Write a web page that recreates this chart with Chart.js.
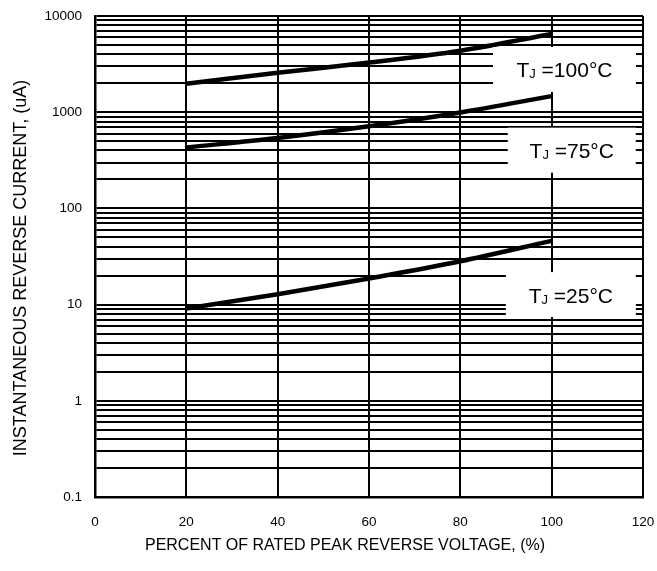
<!DOCTYPE html>
<html>
<head>
<meta charset="utf-8">
<script src="https://cdn.jsdelivr.net/npm/chart.js@4"></script>
<style>
  body { margin: 0; background: #fff; }
</style>
</head>
<body>
<canvas id="grafico" width="657" height="571"></canvas>
<script>
// datos
const voltaje = [20, 40, 60, 80, 100]
const corriente100 = [1980, 2570, 3280, 4360, 6500]
const corriente75 = [430, 540, 714, 995, 1470]
const corriente25 = [9.1, 12.8, 18.7, 28.2, 46]

const decadas = [0.1, 1, 10, 100, 1000, 10000]
const xTicks = [0, 20, 40, 60, 80, 100, 120]

const tituloX = "PERCENT OF RATED PEAK REVERSE VOLTAGE, (%)"
const tituloY = "INSTANTANEOUS REVERSE CURRENT, (uA)"

// etiquetas de temperatura (posicion en unidades de datos)
const etiquetas = ["=100°C", "=75°C", "=25°C"]
const etiquetaX = [102.8, 104.4, 104.2]
const etiquetaY = [2780, 403, 12.7]
const anchoCaja = [143, 128, 130]

const fuente = "Liberation Sans, Arial, sans-serif"

const pluginEtiquetas = {
  id: "etiquetas",
  afterDatasetsDraw(chart) {
    const ctx = chart.ctx
    const xs = chart.scales.x
    const ys = chart.scales.y
    ctx.save()
    etiquetas.forEach((txt, i) => {
      const cx = xs.getPixelForValue(etiquetaX[i])
      const cy = ys.getPixelForValue(etiquetaY[i])
      const w = anchoCaja[i]
      const h = 45
      ctx.fillStyle = "#fff"
      ctx.fillRect(cx - w / 2, cy - h / 2, w, h)

      ctx.fillStyle = "#000"
      ctx.textBaseline = "alphabetic"
      ctx.font = "21px " + fuente
      const wT = ctx.measureText("T").width
      const wResto = ctx.measureText(" " + txt).width
      ctx.font = "13px " + fuente
      const wJ = ctx.measureText("J").width
      let x = cx - (wT + wJ + wResto) / 2
      const base = cy + 8
      ctx.font = "21px " + fuente
      ctx.fillText("T", x, base)
      x += wT
      ctx.font = "13px " + fuente
      ctx.fillText("J", x, base + 1)
      x += wJ
      ctx.font = "21px " + fuente
      ctx.fillText(" " + txt, x, base)
    })

    // titulos de los ejes
    ctx.textAlign = "center"
    ctx.textBaseline = "middle"
    ctx.font = "16px " + fuente
    ctx.fillText(tituloX, 345, 546)
    ctx.translate(21, 268)
    ctx.rotate(-Math.PI / 2)
    ctx.font = "18px " + fuente
    ctx.fillText(tituloY, 0, 0)
    ctx.restore()
  }
}

const serie = (data) => ({
  data: voltaje.map((v, i) => ({ x: v, y: data[i] })),
  borderColor: "#000",
  borderWidth: 4.5,
  pointRadius: 0,
  fill: false,
  cubicInterpolationMode: "monotone"
})

const config = {
  type: "line",
  data: {
    datasets: [serie(corriente100), serie(corriente75), serie(corriente25)]
  },
  options: {
    responsive: false,
    animation: false,
    layout: { padding: { left: 0, right: 14, top: 16, bottom: 0 } },
    plugins: { legend: { display: false }, tooltip: { enabled: false } },
    scales: {
      x: {
        type: "linear",
        min: 0,
        max: 120,
        afterBuildTicks: (scale) => {
          scale.ticks = xTicks.map((v) => ({ value: v }))
        },
        afterFit: (scale) => {
          scale.height = 74
          scale.paddingLeft = 0
          scale.paddingRight = 0
        },
        grid: { color: "#000", lineWidth: 2, drawTicks: false },
        border: { color: "#000", width: 2.5 },
        ticks: {
          color: "#000",
          padding: 17,
          maxRotation: 0,
          autoSkip: false,
          font: { family: fuente, size: 13.5 }
        }
      },
      y: {
        type: "logarithmic",
        min: 0.1,
        max: 10000,
        afterBuildTicks: (scale) => {
          const t = []
          decadas.forEach((d, i) => {
            if (i === decadas.length - 1) {
              t.push({ value: d, major: true })
              return
            }
            for (let k = 1; k <= 9; k++) t.push({ value: d * k, major: k === 1 })
          })
          scale.ticks = t
        },
        afterFit: (scale) => {
          scale.width = 95
          scale.paddingTop = 0
          scale.paddingBottom = 0
        },
        grid: { color: "#000", lineWidth: 2, drawTicks: false },
        border: { color: "#000", width: 2.5 },
        ticks: {
          color: "#000",
          padding: 13,
          autoSkip: false,
          font: { family: fuente, size: 13.5 },
          callback: (value) => {
            const d = decadas.find((d) => Math.abs(d - value) < d * 1e-6)
            return d !== undefined ? String(d) : ""
          }
        }
      }
    }
  },
  plugins: [pluginEtiquetas]
}

new Chart(document.getElementById("grafico"), config)
</script>
</body>
</html>
